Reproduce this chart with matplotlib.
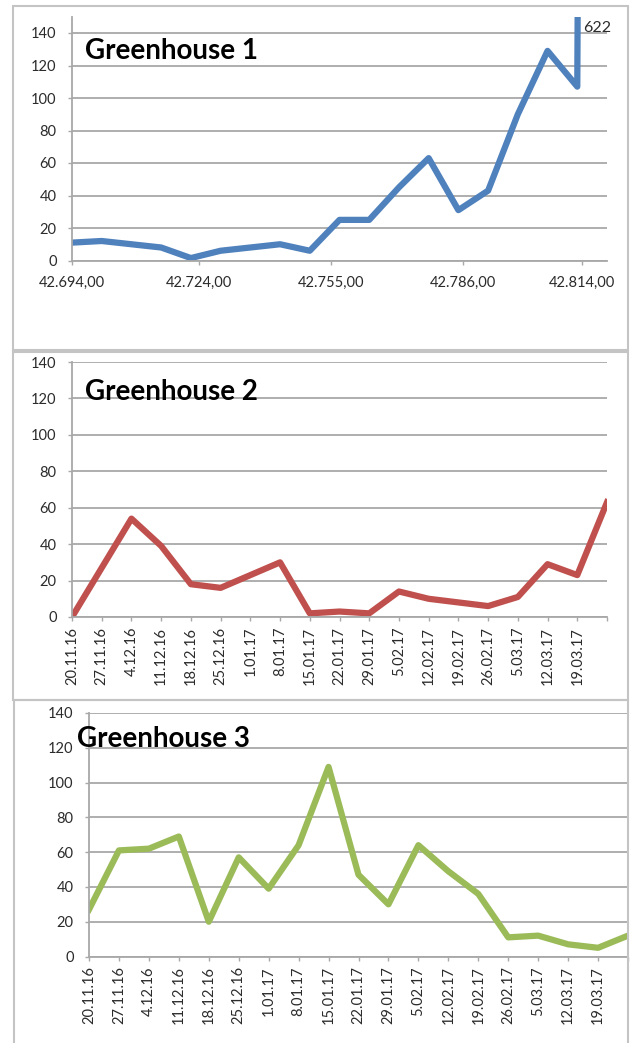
import numpy as np
import matplotlib
matplotlib.use('Agg')
import matplotlib.pyplot as plt
from matplotlib.patches import Rectangle

plt.rcParams['font.family'] = ['Lato', 'DejaVu Sans']

# greenhouse 1: excel date serials on the x axis
g1_days = [42694, 42701, 42708, 42715, 42722, 42729, 42736, 42743, 42750,
           42757, 42764, 42771, 42778, 42785, 42792, 42799, 42806, 42813, 42814]
g1_vals = [11, 12, 10, 8, 1.5, 6, 8, 10, 6, 25, 25, 45, 63, 31, 43, 90, 129, 107, 622]
g1_ticks = [42694, 42724, 42755, 42786, 42814]
g1_ticklabels = ['42.694,00', '42.724,00', '42.755,00', '42.786,00', '42.814,00']

# greenhouse 2 and 3: weekly categories
weeks = ['20.11.16', '27.11.16', '4.12.16', '11.12.16', '18.12.16', '25.12.16',
         '1.01.17', '8.01.17', '15.01.17', '22.01.17', '29.01.17', '5.02.17',
         '12.02.17', '19.02.17', '26.02.17', '5.03.17', '12.03.17', '19.03.17', '']
g2_vals = [0, 27, 54, 39, 18, 16, 23, 30, 2, 3, 2, 14, 10, 8, 6, 11, 29, 23, 63]
g3_vals = [27, 61, 62, 69, 20, 57, 39, 64, 109, 47, 30, 64, 49, 36, 11, 12, 7, 5, 12]

W, H = 637, 1043
fig = plt.figure(figsize=(W/100, H/100), dpi=100)

def rect(l, r, top, bottom):
    return [l/W, 1 - bottom/H, (r-l)/W, (bottom-top)/H]

grid_c = '#A8A8A8'
frame_c = '#C4C4C4'
txt_c = '#2b2b2b'
fs = 10.5

def style(ax):
    ax.set_axisbelow(True)
    ax.yaxis.grid(True, color=grid_c, lw=1.3)
    for s in ['top', 'right']:
        ax.spines[s].set_visible(False)
    ax.spines['left'].set_color(grid_c)
    ax.spines['bottom'].set_color(grid_c)
    ax.spines['left'].set_linewidth(1.3)
    ax.spines['bottom'].set_linewidth(1.3)
    ax.set_yticks(np.arange(0, 141, 20))
    ax.tick_params(axis='y', length=3, width=1, color=grid_c, pad=8,
                   labelsize=fs, labelcolor=txt_c)
    ax.tick_params(axis='x', length=3, width=1, color=grid_c,
                   labelsize=fs, labelcolor=txt_c)

# panel frames
for (l, r, t, b) in [(13, 628, 6, 350), (13, 628, 352, 700), (14, 628, 700, 1045)]:
    fig.add_artist(Rectangle((l/W, 1-b/H), (r-l)/W, (b-t)/H, transform=fig.transFigure,
                             fill=False, ec=frame_c, lw=1.5))

lw = 4.5
# panel 1
ax1 = fig.add_axes(rect(72, 607, 16.75, 260.5))
style(ax1)
ax1.plot(g1_days, g1_vals, color='#4F81BD', lw=lw, solid_joinstyle='round')
ax1.set_ylim(0, 150)
ax1.set_xlim(42694, 42820)
ax1.set_xticks(g1_ticks)
ax1.set_xticklabels(g1_ticklabels)
ax1.tick_params(axis='x', pad=8)
ax1.text(42814.4, 143, '622', fontsize=11.5, color=txt_c, ha='left', va='center')

# panel 2
ax2 = fig.add_axes(rect(72, 607, 362, 617))
style(ax2)
x = np.arange(len(weeks))
ax2.plot(x, g2_vals, color='#C0504D', lw=lw, solid_joinstyle='round')
ax2.set_ylim(0, 140)
ax2.set_xlim(0, len(weeks) - 1)
ax2.set_xticks(x)
ax2.set_xticklabels(weeks, rotation=90)
ax2.tick_params(axis='x', pad=4)

# panel 3
ax3 = fig.add_axes(rect(89, 628, 713, 956.5))
style(ax3)
ax3.plot(x, g3_vals, color='#9BBB59', lw=lw, solid_joinstyle='round')
ax3.set_ylim(0, 140)
ax3.set_xlim(0, len(weeks) - 1)
ax3.set_xticks(x)
ax3.set_xticklabels(weeks, rotation=90)
ax3.tick_params(axis='x', pad=4)

# titles
for (tx, ty, s) in [(85, 51, 'Greenhouse 1'), (85, 392, 'Greenhouse 2'), (77, 739, 'Greenhouse 3')]:
    fig.text(tx/W, 1 - ty/H, s, fontsize=20, fontweight='bold', color='black',
             ha='left', va='center')

fig.savefig('out.png', dpi=100)
